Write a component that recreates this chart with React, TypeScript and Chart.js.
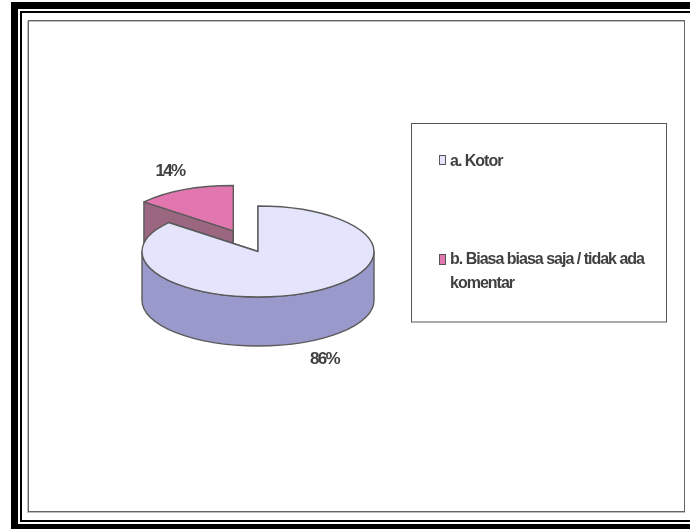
import React, { useEffect, useRef } from "react";
import { Chart, registerables } from "chart.js";

Chart.register(...registerables);

// Survey answers and their shares
const categories: string[][] = [["a. Kotor"], ["b. Biasa biasa saja / tidak ada", "komentar"]];
const shares = [86, 14];
const topColors = ["#E4E4FC", "#E277B0"];
const wallColors = ["#9999CC", "#9A6680"];
const sliceOffsets = [0, 58];
const percentLabels = ["86%", "14%"];
const percentNudges = [[17, 18], [-14, -18]];

const WIDTH = 690;
const HEIGHT = 529;
const RADIUS = 116;
const SQUASH = 0.392;
const DEPTH = 49;
const CENTER = { x: 258, y: 251.5 };
const EDGE = "#5A5A5A";
const TEXT = "#404040";
const KEY_FONT = "bold 16px 'Liberation Sans', Arial, sans-serif";
const KEY_TRACKING = "-1px";
const PERCENT_FONT = "bold 17px 'Liberation Sans', Arial, sans-serif";
const PERCENT_TRACKING = "-1.8px";

const LEGEND_BOX = { left: 411, top: 123, right: 666, bottom: 321.5 };
const LEGEND_ROWS = [
  { swatchY: 155, swatchH: 10, baselines: [166] },
  { swatchY: 254, swatchH: 11, baselines: [264, 288] },
];

// Double black page frame and the thin grey chart border
const framePlugin = {
  id: "pageFrame",
  beforeDraw(chart: Chart) {
    const { ctx } = chart;
    ctx.save();
    ctx.fillStyle = "#FFFFFF";
    ctx.fillRect(0, 0, WIDTH, HEIGHT);
    ctx.fillStyle = "#000000";
    ctx.fillRect(11, 2, WIDTH - 11, 7);
    ctx.fillRect(20, 11, WIDTH - 20, 2);
    ctx.fillRect(11, 2, 7, HEIGHT - 2);
    ctx.fillRect(20, 11, 2, 511);
    ctx.fillRect(20, 520, WIDTH - 20, 2);
    ctx.fillRect(11, 524, WIDTH - 11, 5);
    ctx.strokeStyle = "#BDBDBD";
    ctx.lineWidth = 1;
    ctx.strokeRect(27.5, 21.5, 657, 491);
    ctx.strokeStyle = "#666666";
    ctx.strokeRect(28.5, 20.5, 656, 491);
    ctx.restore();
  },
};

// Extrudes each slice downward, back slices first, then lays the flat top on it
const extrudedPiePlugin = {
  id: "extrudedPie",
  beforeDatasetsDraw(chart: Chart) {
    const { ctx } = chart;
    const arcs = chart.getDatasetMeta(0).data as any[];
    ctx.save();
    ctx.lineWidth = 1.4;
    ctx.strokeStyle = EDGE;
    ctx.lineJoin = "round";
    for (let i = arcs.length - 1; i >= 0; i--) {
      const arc = arcs[i];
      const { x, y, startAngle, endAngle, outerRadius } = arc.getProps(
        ["x", "y", "startAngle", "endAngle", "outerRadius"],
        true
      );
      const mid = (startAngle + endAngle) / 2;
      const off = sliceOffsets[i];
      const cx = x + Math.cos(mid) * off;
      const cy = y + Math.sin(mid) * off * SQUASH;
      const rimAt = (a: number) => [
        cx + Math.cos(a) * outerRadius,
        cy + Math.sin(a) * outerRadius * SQUASH,
      ];

      // Cut faces
      ctx.fillStyle = wallColors[i];
      for (const a of [startAngle, endAngle]) {
        const [px, py] = rimAt(a);
        ctx.beginPath();
        ctx.moveTo(cx, cy);
        ctx.lineTo(px, py);
        ctx.lineTo(px, py + DEPTH);
        ctx.lineTo(cx, cy + DEPTH);
        ctx.closePath();
        ctx.fill();
        ctx.stroke();
      }

      // Curved outer wall, front half only
      const from = Math.max(startAngle, 0);
      const to = Math.min(endAngle, Math.PI);
      if (to > from) {
        ctx.beginPath();
        ctx.ellipse(cx, cy, outerRadius, outerRadius * SQUASH, 0, from, to);
        ctx.ellipse(cx, cy + DEPTH, outerRadius, outerRadius * SQUASH, 0, to, from, true);
        ctx.closePath();
        ctx.fill();
        ctx.stroke();
      }

      // Flat top, drawn by the arc element through a squashed transform
      ctx.save();
      ctx.translate(0, y);
      ctx.scale(1, SQUASH);
      ctx.translate(0, -y);
      ctx.translate(Math.cos(mid) * off, Math.sin(mid) * off);
      arc.draw(ctx);
      ctx.restore();

      ctx.beginPath();
      ctx.moveTo(cx, cy);
      ctx.ellipse(cx, cy, outerRadius, outerRadius * SQUASH, 0, startAngle, endAngle);
      ctx.closePath();
      ctx.stroke();
    }
    ctx.restore();
    return false;
  },
  afterDraw(chart: Chart) {
    const { ctx } = chart;
    const arcs = chart.getDatasetMeta(0).data as any[];
    ctx.save();
    ctx.font = PERCENT_FONT;
    (ctx as any).letterSpacing = PERCENT_TRACKING;
    ctx.fillStyle = TEXT;
    ctx.textAlign = "center";
    ctx.textBaseline = "middle";
    arcs.forEach((arc, i) => {
      const { x, y, startAngle, endAngle, outerRadius } = arc.getProps(
        ["x", "y", "startAngle", "endAngle", "outerRadius"],
        true
      );
      const mid = (startAngle + endAngle) / 2;
      const reach = outerRadius + sliceOffsets[i];
      const wall = Math.sin(mid) > 0 ? DEPTH : 0;
      ctx.fillText(
        percentLabels[i],
        x + Math.cos(mid) * reach + percentNudges[i][0],
        y + Math.sin(mid) * reach * SQUASH + wall + percentNudges[i][1]
      );
    });
    ctx.restore();
  },
};

// Boxed key on the right, two rows with wrapped text
const keyPlugin = {
  id: "boxedKey",
  afterDraw(chart: Chart) {
    const { ctx } = chart;
    const box = LEGEND_BOX;
    ctx.save();
    ctx.lineWidth = 1;
    ctx.strokeStyle = "#555555";
    ctx.strokeRect(box.left + 0.5, box.top + 0.5, box.right - box.left, box.bottom - box.top);
    ctx.font = KEY_FONT;
    (ctx as any).letterSpacing = KEY_TRACKING;
    ctx.textAlign = "left";
    ctx.textBaseline = "alphabetic";
    (chart.data.labels as string[][]).forEach((lines, i) => {
      const row = LEGEND_ROWS[i];
      ctx.fillStyle = topColors[i];
      ctx.strokeStyle = "#555555";
      ctx.fillRect(439.5, row.swatchY + 0.5, 6, row.swatchH - 1);
      ctx.strokeRect(439.5, row.swatchY + 0.5, 6, row.swatchH - 1);
      ctx.fillStyle = TEXT;
      lines.forEach((line, j) => ctx.fillText(line, 450, row.baselines[j]));
    });
    ctx.restore();
  },
};

export default function App() {
  const canvasRef = useRef<HTMLCanvasElement>(null);

  useEffect(() => {
    document.body.style.margin = "0";
    const chart = new Chart(canvasRef.current!, {
      type: "pie",
      data: {
        labels: categories as any,
        datasets: [
          {
            data: shares,
            backgroundColor: topColors,
            borderWidth: 0,
            radius: RADIUS,
          } as any,
        ],
      },
      options: {
        responsive: false,
        animation: false,
        events: [],
        layout: {
          padding: {
            left: 0,
            top: 0,
            right: WIDTH - CENTER.x * 2,
            bottom: HEIGHT - CENTER.y * 2,
          },
        },
        plugins: {
          legend: { display: false },
          tooltip: { enabled: false },
        },
      },
      plugins: [framePlugin, extrudedPiePlugin, keyPlugin],
    });
    return () => chart.destroy();
  }, []);

  return <canvas ref={canvasRef} width={WIDTH} height={HEIGHT} style={{ display: "block" }} />;
}
